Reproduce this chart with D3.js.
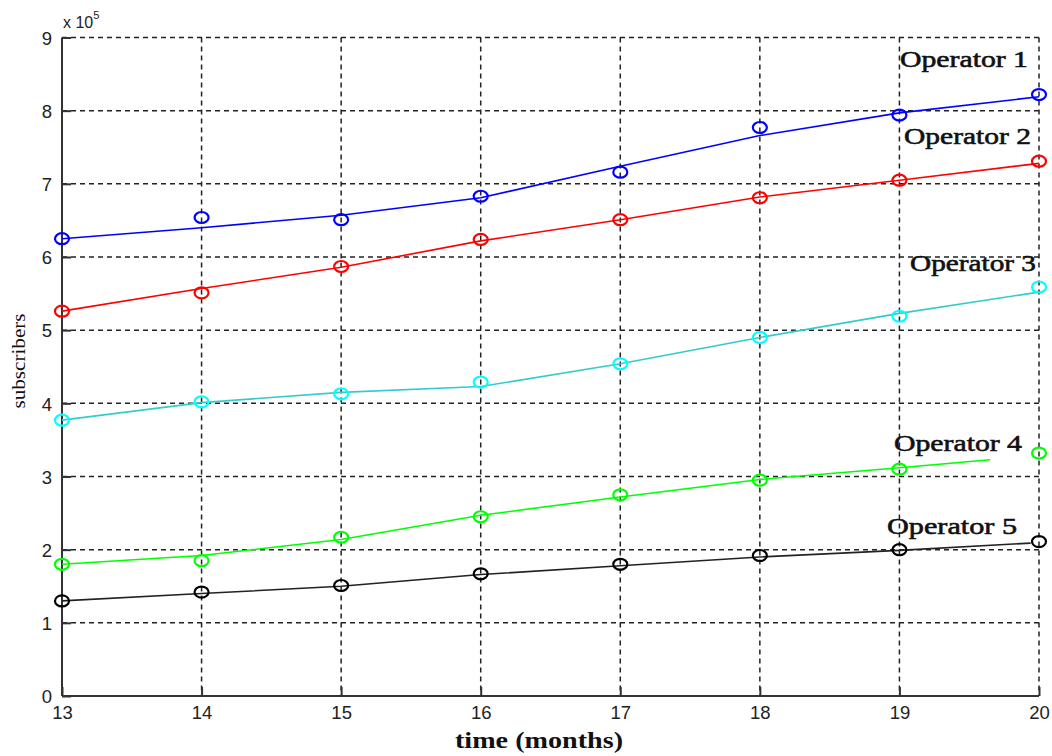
<!DOCTYPE html>
<html><head><meta charset="utf-8">
<script src="https://cdn.jsdelivr.net/npm/d3@7"></script>
<style>body{margin:0;background:#fff}svg{display:block}</style>
</head><body>
<svg id="c" width="1052" height="756"></svg>
<script>
// Data (values in units of 1e5 subscribers)
const months = [13, 14, 15, 16, 17, 18, 19, 20];
const xTicks = [13, 14, 15, 16, 17, 18, 19, 20];
const yTicks = [0, 1, 2, 3, 4, 5, 6, 7, 8, 9];
const operators = ["Operator 1", "Operator 2", "Operator 3", "Operator 4", "Operator 5"];
const colors = ["#0000ff", "#ff0000", "#00ffff", "#00ff00", "#000000"];
const lineColors = ["#0000ff", "#ff0000", "#33cccc", "#00ff00", "#222222"];
// observed points (circles)
const obs1 = [6.25, 6.54, 6.51, 6.83, 7.16, 7.77, 7.94, 8.22];
const obs2 = [5.26, 5.51, 5.87, 6.24, 6.51, 6.81, 7.05, 7.31];
const obs3 = [3.77, 4.02, 4.13, 4.29, 4.54, 4.90, 5.19, 5.59];
const obs4 = [1.80, 1.85, 2.17, 2.45, 2.75, 2.95, 3.10, 3.32];
const obs5 = [1.30, 1.42, 1.51, 1.67, 1.80, 1.92, 2.00, 2.11];
// fitted curves (lines)
const fitX1 = [13, 14, 15, 16, 17, 18, 19, 20];
const fit1 = [6.25, 6.40, 6.57, 6.81, 7.24, 7.66, 7.97, 8.19];
const fitX2 = [13, 14, 15, 16, 17, 18, 19, 20];
const fit2 = [5.26, 5.57, 5.86, 6.22, 6.51, 6.82, 7.05, 7.28];
const fitX3 = [13, 14, 15, 16, 17, 18, 19, 20];
const fit3 = [3.77, 4.01, 4.15, 4.23, 4.54, 4.90, 5.23, 5.52];
const fitX4 = [13, 14, 15, 16, 17, 18, 19, 19.65];
const fit4 = [1.80, 1.92, 2.14, 2.47, 2.72, 2.96, 3.12, 3.23];
const fitX5 = [13, 14, 15, 16, 17, 18, 19, 19.94];
const fit5 = [1.30, 1.40, 1.50, 1.66, 1.78, 1.90, 1.99, 2.09];

const obsAll = [obs1, obs2, obs3, obs4, obs5];
const fitXAll = [fitX1, fitX2, fitX3, fitX4, fitX5];
const fitAll = [fit1, fit2, fit3, fit4, fit5];
const labelPos = [[900, 8.6], [904, 7.55], [910, 5.81], [894, 3.35], [887, 2.22]];
const labelWidths = [128, 127, 126, 128, 130];

const svg = d3.select("#c");
const m = {left: 62, right: 1039, top: 37.5, bottom: 696};
const x = d3.scaleLinear().domain([13, 20]).range([m.left, m.right]);
const y = d3.scaleLinear().domain([0, 9]).range([m.bottom, m.top]);

// grid
const grid = svg.append("g").attr("stroke", "#222").attr("stroke-width", 1.5).attr("stroke-dasharray", "5,4");
grid.selectAll(".gx").data(xTicks.slice(1)).join("line")
  .attr("x1", d => x(d)).attr("x2", d => x(d)).attr("y1", m.top).attr("y2", m.bottom);
grid.selectAll(".gy").data(yTicks.slice(1)).join("line")
  .attr("x1", m.left).attr("x2", m.right).attr("y1", d => y(d)).attr("y2", d => y(d));

// axes
const xAxis = d3.axisBottom(x).tickValues(xTicks).tickSize(-9).tickPadding(21).tickFormat(d3.format("d"));
const yAxis = d3.axisLeft(y).tickValues(yTicks).tickSize(-9).tickPadding(10).tickFormat(d3.format("d"));
const gx = svg.append("g").attr("transform", `translate(0,${m.bottom})`).call(xAxis);
const gy = svg.append("g").attr("transform", `translate(${m.left},0)`).call(yAxis);
[gx, gy].forEach(g => {
  g.select(".domain").attr("stroke", "#333").attr("stroke-width", 2);
  g.selectAll(".tick line").attr("stroke", "#333").attr("stroke-width", 2);
  g.selectAll(".tick text").attr("font-family", "Liberation Sans, Arial, sans-serif").attr("font-size", 18.5).attr("fill", "#222");
});
gy.selectAll(".tick text").attr("dy", "0.36em");
gx.select(".domain").attr("d", `M${m.left},0H${m.right}`);
gy.select(".domain").attr("d", `M0,${m.bottom}V${m.top}`);
gx.selectAll(".tick text").attr("dy", "0.1em");

// exponent
const ex = svg.append("text").attr("x", 63).attr("y", 28).attr("font-family", "Liberation Sans, Arial, sans-serif").attr("font-size", 16).attr("fill", "#222");
ex.append("tspan").text("x 10");
ex.append("tspan").attr("font-size", 11).attr("dy", -9).text("5");

// lines
const line = d3.line().x(d => x(d[0])).y(d => y(d[1]));
fitAll.forEach((f, i) => {
  const pts = f.map((v, j) => [fitXAll[i][j], v]);
  svg.append("path").attr("d", line(pts)).attr("fill", "none").attr("stroke", lineColors[i]).attr("stroke-width", 1.6);
});
// markers
obsAll.forEach((o, i) => {
  svg.append("g").selectAll("ellipse").data(o.map((v, j) => [months[j], v])).join("ellipse")
    .attr("cx", d => x(d[0])).attr("cy", d => y(d[1])).attr("rx", 7).attr("ry", 5.5)
    .attr("fill", "none").attr("stroke", colors[i]).attr("stroke-width", 2.2);
});

// operator labels
operators.forEach((t, i) => {
  svg.append("text").attr("x", labelPos[i][0]).attr("y", y(labelPos[i][1]))
    .attr("font-family", "Liberation Serif, Times New Roman, serif").attr("font-size", 24)
    .attr("textLength", labelWidths[i]).attr("lengthAdjust", "spacingAndGlyphs")
    .attr("fill", "#111").attr("stroke", "#111").attr("stroke-width", 0.6).text(t);
});

// axis titles
svg.append("text").attr("x", 455).attr("y", 748).attr("font-family", "Liberation Serif, Times New Roman, serif")
  .attr("font-size", 24).attr("font-weight", "bold").attr("textLength", 168).attr("lengthAdjust", "spacingAndGlyphs")
  .attr("fill", "#111").text("time (months)");
svg.append("text").attr("transform", "translate(25,361) rotate(-90)").attr("text-anchor", "middle")
  .attr("font-family", "Liberation Serif, Times New Roman, serif").attr("font-size", 19)
  .attr("textLength", 95).attr("lengthAdjust", "spacingAndGlyphs")
  .attr("fill", "#111").text("subscribers");
</script>
</body></html>
